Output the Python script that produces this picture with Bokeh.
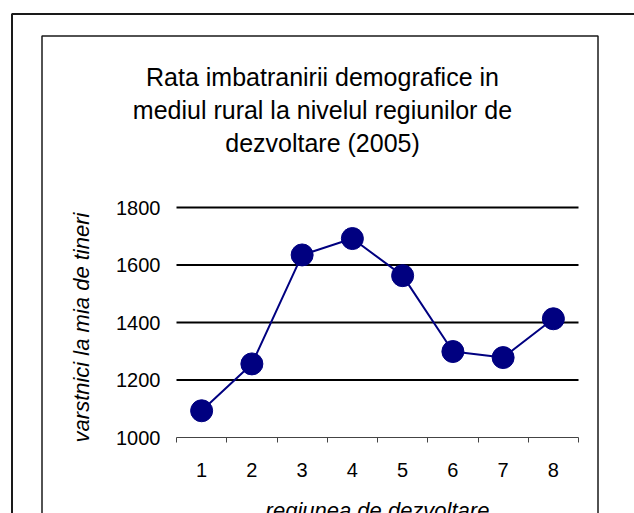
import math
from bokeh.plotting import figure
from bokeh.models import Range1d, FixedTicker, Label, BoxAnnotation, LinearAxis
from bokeh.embed import file_html
from bokeh.resources import INLINE

# ---------------- data ----------------
regions = [1, 2, 3, 4, 5, 6, 7, 8]
region_labels = ["1", "2", "3", "4", "5", "6", "7", "8"]
values = [1093, 1256, 1635, 1692, 1563, 1299, 1278, 1413]
y_ticks = [1000, 1200, 1400, 1600, 1800]
grid_values = [1200, 1400, 1600, 1800]
title_lines = [
    "Rata imbatranirii demografice in",
    "mediul rural la nivelul regiunilor de",
    "dezvoltare (2005)",
]
y_title = "varstnici la mia de tineri"
x_title = "regiunea de dezvoltare"

# ---------------- layout (pixels) ----------------
W, H = 634, 513
PL, PR = 176, 578          # plot area left / right
PT, PB = 207, 437          # plot area top / bottom
FONT = "Liberation Sans"
NAVY = "#000080"

boundaries = [r - 0.5 for r in regions] + [regions[-1] + 0.5]
X0, X1 = boundaries[0], boundaries[-1]
Y0, Y1 = y_ticks[0], y_ticks[-1]
UX = (X1 - X0) / (PR - PL)
UY = (Y1 - Y0) / (PB - PT)


def x_at(px):
    return X0 + (px - PL) * UX


def y_at(py):
    return Y0 + (PB - py) * UY


p = figure(
    width=W, height=H,
    x_range=Range1d(x_at(0), x_at(W)), y_range=Range1d(y_at(H), y_at(0)),
    output_backend="svg", toolbar_location=None,
    x_axis_location=None, y_axis_location=None,
    min_border=0,
)
p.title.visible = False
p.outline_line_color = None
p.background_fill_color = "white"
p.border_fill_color = "white"
p.xgrid.visible = False
p.ygrid.visible = False

# chart-area and plot-area borders
p.add_layout(BoxAnnotation(
    left=x_at(11.5), right=x_at(W + 40), top=y_at(13.5), bottom=y_at(H + 40),
    fill_color=None, fill_alpha=0,
    line_color="#1a1a1a", line_alpha=1.0, line_width=2,
))
p.add_layout(BoxAnnotation(
    left=x_at(41.5), right=x_at(597.5), top=y_at(35.5), bottom=y_at(H + 40),
    fill_color=None, fill_alpha=0,
    line_color="#1a1a1a", line_alpha=1.0, line_width=1.5,
))

# horizontal gridlines across the plot area
p.segment(x0=[X0] * len(grid_values), x1=[X1] * len(grid_values),
          y0=grid_values, y1=grid_values, line_color="black", line_width=2)

# series
p.line(regions, values, line_color=NAVY, line_width=2)
p.scatter(regions, values, size=22, fill_color=NAVY, line_color=NAVY)

# x axis: labels at category centres, tick marks at category boundaries
xa = LinearAxis(fixed_location=Y0, bounds=(X0, X1))
xa.ticker = FixedTicker(ticks=regions, minor_ticks=boundaries)
xa.major_label_overrides = {r: l for r, l in zip(regions, region_labels)}
xa.major_tick_out = 0
xa.major_tick_in = 0
xa.minor_tick_out = 5
xa.minor_tick_in = 0
xa.minor_tick_line_color = "#444444"
xa.axis_line_color = "#444444"
xa.axis_line_width = 1
xa.major_label_text_font = FONT
xa.major_label_text_font_size = "20px"
xa.major_label_text_color = "black"
xa.major_label_standoff = 20
xa.axis_label = x_title
xa.axis_label_text_font = FONT
xa.axis_label_text_font_style = "italic"
xa.axis_label_text_font_size = "22px"
xa.axis_label_text_color = "black"
xa.axis_label_standoff = 18
p.add_layout(xa, "below")

# y axis (its title is placed as a rotated label below)
ya = LinearAxis(fixed_location=X0, bounds=(Y0, Y1))
ya.ticker = FixedTicker(ticks=y_ticks)
ya.axis_line_color = None
ya.major_tick_out = 0
ya.major_tick_in = 0
ya.minor_tick_out = 0
ya.minor_tick_in = 0
ya.major_label_text_font = FONT
ya.major_label_text_font_size = "20px"
ya.major_label_text_color = "black"
ya.major_label_standoff = 16
p.add_layout(ya, "left")

p.add_layout(Label(
    x=x_at(81), y=y_at(327), text=y_title, angle=math.pi / 2,
    text_align="center", text_baseline="middle",
    text_font=FONT, text_font_style="italic", text_font_size="22px",
    text_color="black",
))

# title (three centred lines)
title_baselines = [76, 109, 142]
for line, by in zip(title_lines, title_baselines):
    p.add_layout(Label(
        x=x_at(322), y=y_at(by), text=line,
        text_align="center", text_baseline="alphabetic",
        text_font=FONT, text_font_size="25px", text_color="black",
    ))

open("out.html", "w").write(file_html(p, INLINE))
